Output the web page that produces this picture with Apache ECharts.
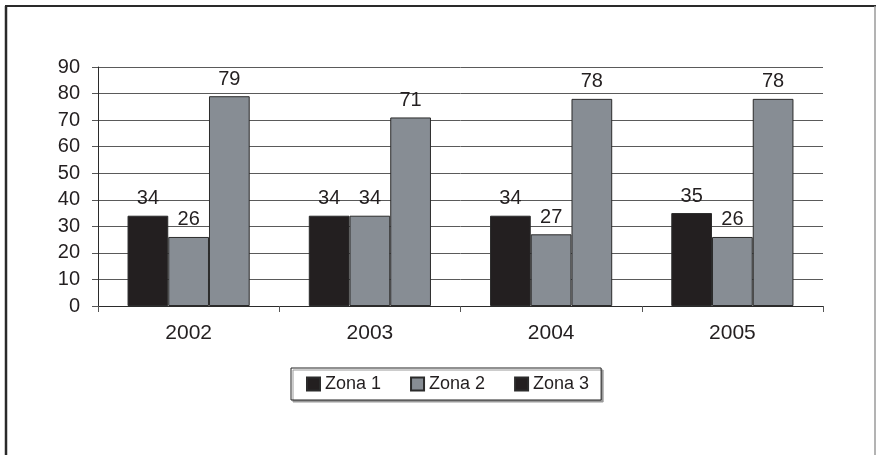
<!DOCTYPE html>
<html>
<head>
<meta charset="utf-8">
<script src="https://cdn.jsdelivr.net/npm/echarts@6/dist/echarts.min.js"></script>
<style>
  html, body { margin: 0; padding: 0; background: #fff; }
  #chart { width: 876px; height: 455px; }
</style>
</head>
<body>
<div id="chart"></div>
<script>
// Years on the category axis
const years = ['2002', '2003', '2004', '2005'];
// Values per zone
const zona1 = [34, 34, 34, 35];
const zona2 = [26, 34, 27, 26];
const zona3 = [79, 71, 78, 78];
// Value axis range
const yMin = 0, yMax = 90, yStep = 10;

const ink = '#231f20';
const grey = '#878d94';
const font = '"Liberation Sans", Arial, sans-serif';

function barSeries(name, data, color) {
  return {
    name: name,
    type: 'bar',
    data: data,
    barGap: '0%',
    barCategoryGap: '32.6%',
    itemStyle: { color: color, borderColor: '#2b2b2b', borderWidth: 1 },
    label: {
      show: true,
      position: 'top',
      distance: 7,
      color: ink,
      fontFamily: font,
      fontSize: 20
    }
  };
}

const chart = echarts.init(document.getElementById('chart'), null, { renderer: 'canvas' });
chart.setOption({
  animation: false,
  backgroundColor: '#fff',
  grid: { left: 98, right: 53, top: 67, bottom: 149 },
  graphic: [
    // outer frame of the figure
    { type: 'line', shape: { x1: 5, y1: 6, x2: 876, y2: 6 }, style: { stroke: '#2a2a2a', lineWidth: 2 } },
    { type: 'line', shape: { x1: 6, y1: 6, x2: 6, y2: 455 }, style: { stroke: '#2a2a2a', lineWidth: 2.5 } },
    { type: 'line', shape: { x1: 875, y1: 6, x2: 875, y2: 455 }, style: { stroke: '#9a9a9a', lineWidth: 1.5 } }
  ],
  legend: {
    left: 291,
    top: 368,
    padding: [7, 12, 7, 15],
    itemWidth: 13,
    itemHeight: 13,
    itemGap: 29,
    icon: 'rect',
    borderColor: '#222',
    borderWidth: 1,
    backgroundColor: '#fff',
    shadowColor: '#9a9a9a',
    shadowOffsetX: 2,
    shadowOffsetY: 2,
    shadowBlur: 0,
    textStyle: { color: ink, fontFamily: font, fontSize: 18 },
    data: [
      { name: 'Zona 1' },
      { name: 'Zona 2' },
      { name: 'Zona 3', itemStyle: { color: ink } }
    ]
  },
  xAxis: {
    type: 'category',
    data: years,
    axisLine: { lineStyle: { color: '#2b2b2b', width: 1 } },
    axisTick: { show: true, length: 6, lineStyle: { color: '#555' } },
    axisLabel: { color: ink, fontFamily: font, fontSize: 21, margin: 17 }
  },
  yAxis: {
    type: 'value',
    min: yMin,
    max: yMax,
    interval: yStep,
    axisLine: { show: true, lineStyle: { color: '#2b2b2b', width: 1 } },
    axisTick: { show: true, length: 6, lineStyle: { color: '#555' } },
    axisLabel: { color: ink, fontFamily: font, fontSize: 20, margin: 18 },
    splitLine: { show: true, lineStyle: { color: '#5a5a5a', width: 1 } }
  },
  series: [
    barSeries('Zona 1', zona1, ink),
    barSeries('Zona 2', zona2, grey),
    barSeries('Zona 3', zona3, grey)
  ]
});
</script>
</body>
</html>
